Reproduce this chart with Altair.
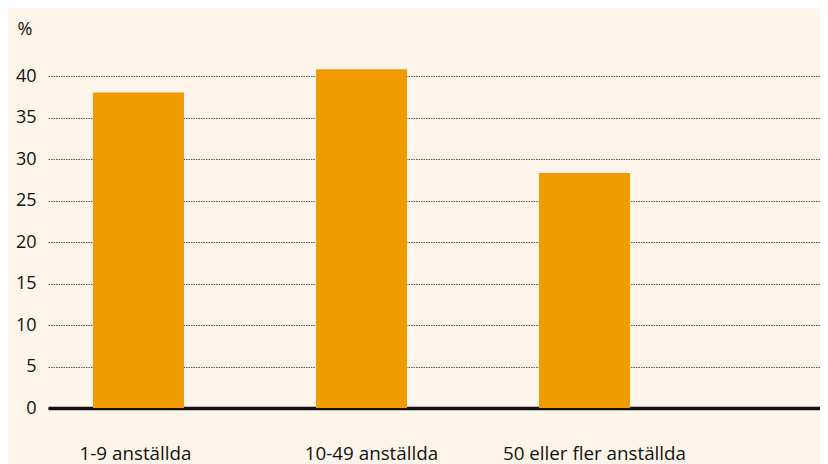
import altair as alt
import pandas as pd

categories = ["1-9 anställda", "10-49 anställda", "50 eller fler anställda"]
values = [38.0, 40.8, 28.3]
y_ticks = [0, 5, 10, 15, 20, 25, 30, 35, 40]

df = pd.DataFrame({"kategori": categories, "andel": values})

FONT = "Open Sans"
TEXT = "#111111"

chart = (
    alt.Chart(df)
    .mark_bar(color="#f09c00")
    .encode(
        x=alt.X(
            "kategori:N",
            sort=categories,
            scale=alt.Scale(paddingInner=0.592, paddingOuter=0.527, align=0.1915),
            axis=alt.Axis(
                title=None,
                labelAngle=0,
                ticks=False,
                tickSize=0,
                domain=True,
                domainColor="#111111",
                domainWidth=3.5,
                labelPadding=36,
                labelLimit=0,
                labelFont=FONT,
                labelFontSize=18.8,
                labelColor=TEXT,
                labelOffset=alt.condition(
                    "datum.value == '1-9 anställda'", alt.value(-3), alt.value(10)
                ),
                grid=False,
            ),
        ),
        y=alt.Y(
            "andel:Q",
            scale=alt.Scale(domain=[0, 40], nice=False),
            axis=alt.Axis(
                values=y_ticks,
                title="%",
                titleAngle=0,
                titleAlign="left",
                titleBaseline="top",
                titleX=-31,
                titleY=-56,
                titleFont=FONT,
                titleFontSize=18,
                titleFontWeight="normal",
                titleColor=TEXT,
                domain=False,
                ticks=False,
                tickSize=0,
                labelPadding=12,
                labelFont=FONT,
                labelFontSize=18,
                labelColor=TEXT,
                grid=True,
                gridColor="#555555",
                gridDash=[1.5, 1],
                gridWidth=1,
            ),
        ),
    )
    .properties(
        width=772,
        height=332,
        autosize=alt.AutoSizeParams(type="none"),
        padding={"left": 40, "top": 68, "right": 0, "bottom": 56},
        background="#fdf5e9",
    )
    .configure_view(stroke=None)
)

chart.save("out.html", embed_options={"renderer": "svg", "actions": False})
